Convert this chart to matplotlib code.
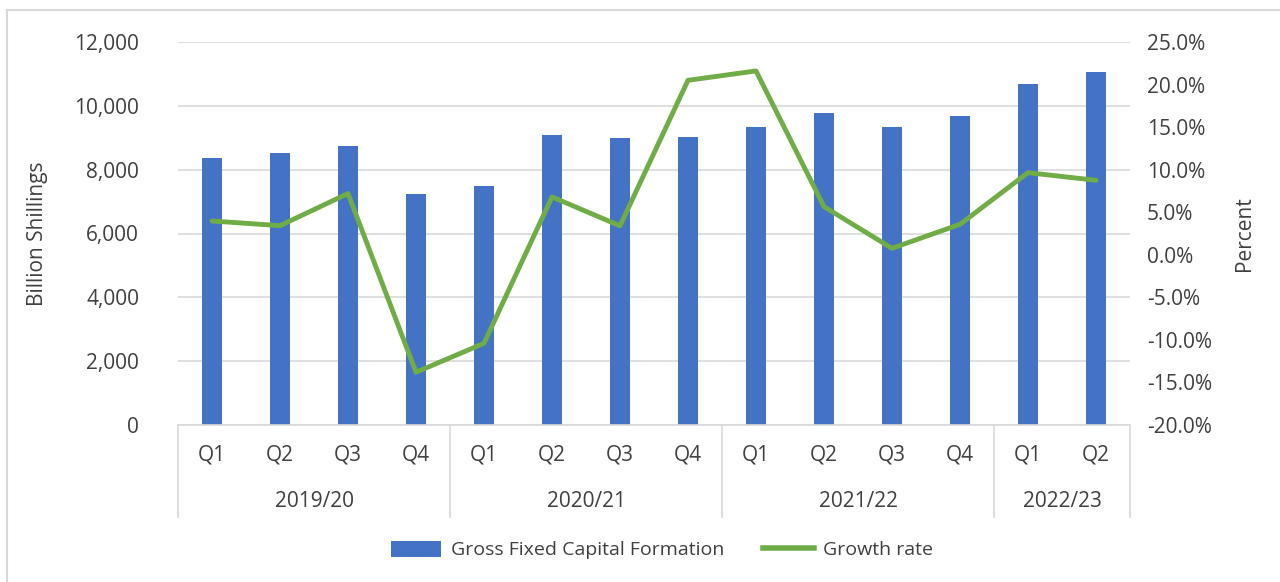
import matplotlib
matplotlib.use("Agg")
import matplotlib.pyplot as plt
import matplotlib.transforms as mtransforms
from matplotlib.patches import Rectangle
from matplotlib.lines import Line2D
from matplotlib.patches import Patch
import numpy as np

# quarterly data
quarters = ["Q1", "Q2", "Q3", "Q4", "Q1", "Q2", "Q3", "Q4",
            "Q1", "Q2", "Q3", "Q4", "Q1", "Q2"]
years = ["2019/20", "2020/21", "2021/22", "2022/23"]
year_sizes = [4, 4, 4, 2]
gfcf = [8370, 8510, 8730, 7240, 7490, 9080, 8990, 9020,
        9330, 9770, 9330, 9690, 10680, 11070]
growth = [3.97, 3.42, 7.2, -13.8, -10.4, 6.8, 3.4, 20.5,
          21.6, 5.65, 0.76, 3.58, 9.65, 8.75]

BLUE = "#4472C4"
GREEN = "#70AD47"
GRID = "#D9D9D9"
TXT = "#404040"

plt.rcParams['font.family'] = ['Open Sans', 'DejaVu Sans']

fig = plt.figure(figsize=(12.8, 5.82), dpi=100)
ax = fig.add_axes([178/1280, 1-425/582, (1130-178)/1280, (425-42)/582])

x = np.arange(len(gfcf))
ax.bar(x, gfcf, width=0.29, color=BLUE, zorder=2)
ax.set_xlim(-0.5, len(gfcf)-0.5)
ax.set_ylim(0, 12000)
ax.set_yticks(np.arange(0, 12001, 2000))
ax.set_yticklabels([f"{v:,}" for v in range(0, 12001, 2000)])
ax.yaxis.grid(True, color=GRID, linewidth=1.2, zorder=0)
ax.set_axisbelow(True)
for s in ["top", "left", "right"]:
    ax.spines[s].set_visible(False)
ax.spines["bottom"].set_color(GRID)
ax.spines["bottom"].set_linewidth(1.2)
ax.tick_params(axis="y", length=0, pad=28, labelsize=15, labelcolor=TXT)
ax.set_xticks(x)
ax.set_xticklabels(quarters)
ax.tick_params(axis="x", length=0, pad=14, labelsize=15, labelcolor=TXT)
ax.set_ylabel("Billion Shillings", fontsize=15, color=TXT, labelpad=19)

# category group labels and separators
trans = mtransforms.blended_transform_factory(ax.transData, ax.transAxes)
start = -0.5
bounds = [start]
for yr, n in zip(years, year_sizes):
    ax.text(start + n/2, -0.201, yr, transform=trans, ha="center", va="center",
            fontsize=15, color=TXT)
    start += n
    bounds.append(start)
for b in bounds:
    ax.plot([b, b], [0, -0.24], transform=trans, color=GRID, linewidth=1.2,
            clip_on=False)

ax2 = ax.twinx()
ax2.plot(x, growth, color=GREEN, linewidth=3.5, solid_joinstyle="round",
         solid_capstyle="round", zorder=3)
ax2.set_ylim(-20, 25)
ax2.set_yticks(np.arange(-20, 26, 5))
ax2.set_yticklabels([f"{v:.1f}%" for v in np.arange(-20, 26, 5)])
for s in ax2.spines.values():
    s.set_visible(False)
ax2.tick_params(axis="y", length=0, pad=12, labelsize=15, labelcolor=TXT)
ax2.set_ylabel("Percent", fontsize=15, color=TXT, labelpad=16)

handles = [Patch(facecolor=BLUE), Line2D([0], [0], color=GREEN, linewidth=4)]
fig.legend(handles, ["Gross Fixed Capital Formation", "Growth rate"],
           loc="center", bbox_to_anchor=(662/1280, 1-550/582), ncol=2,
           frameon=False, fontsize=14, labelcolor=TXT, handlelength=2.6,
           handleheight=0.9, columnspacing=2.0, handletextpad=0.5)

# outer chart border
fig.patches.append(Rectangle((7/1280, -0.01), 1.1, 1-10/582+0.01,
                             transform=fig.transFigure, fill=False,
                             edgecolor=GRID, linewidth=1.5))

fig.savefig("out.png", dpi=100)
